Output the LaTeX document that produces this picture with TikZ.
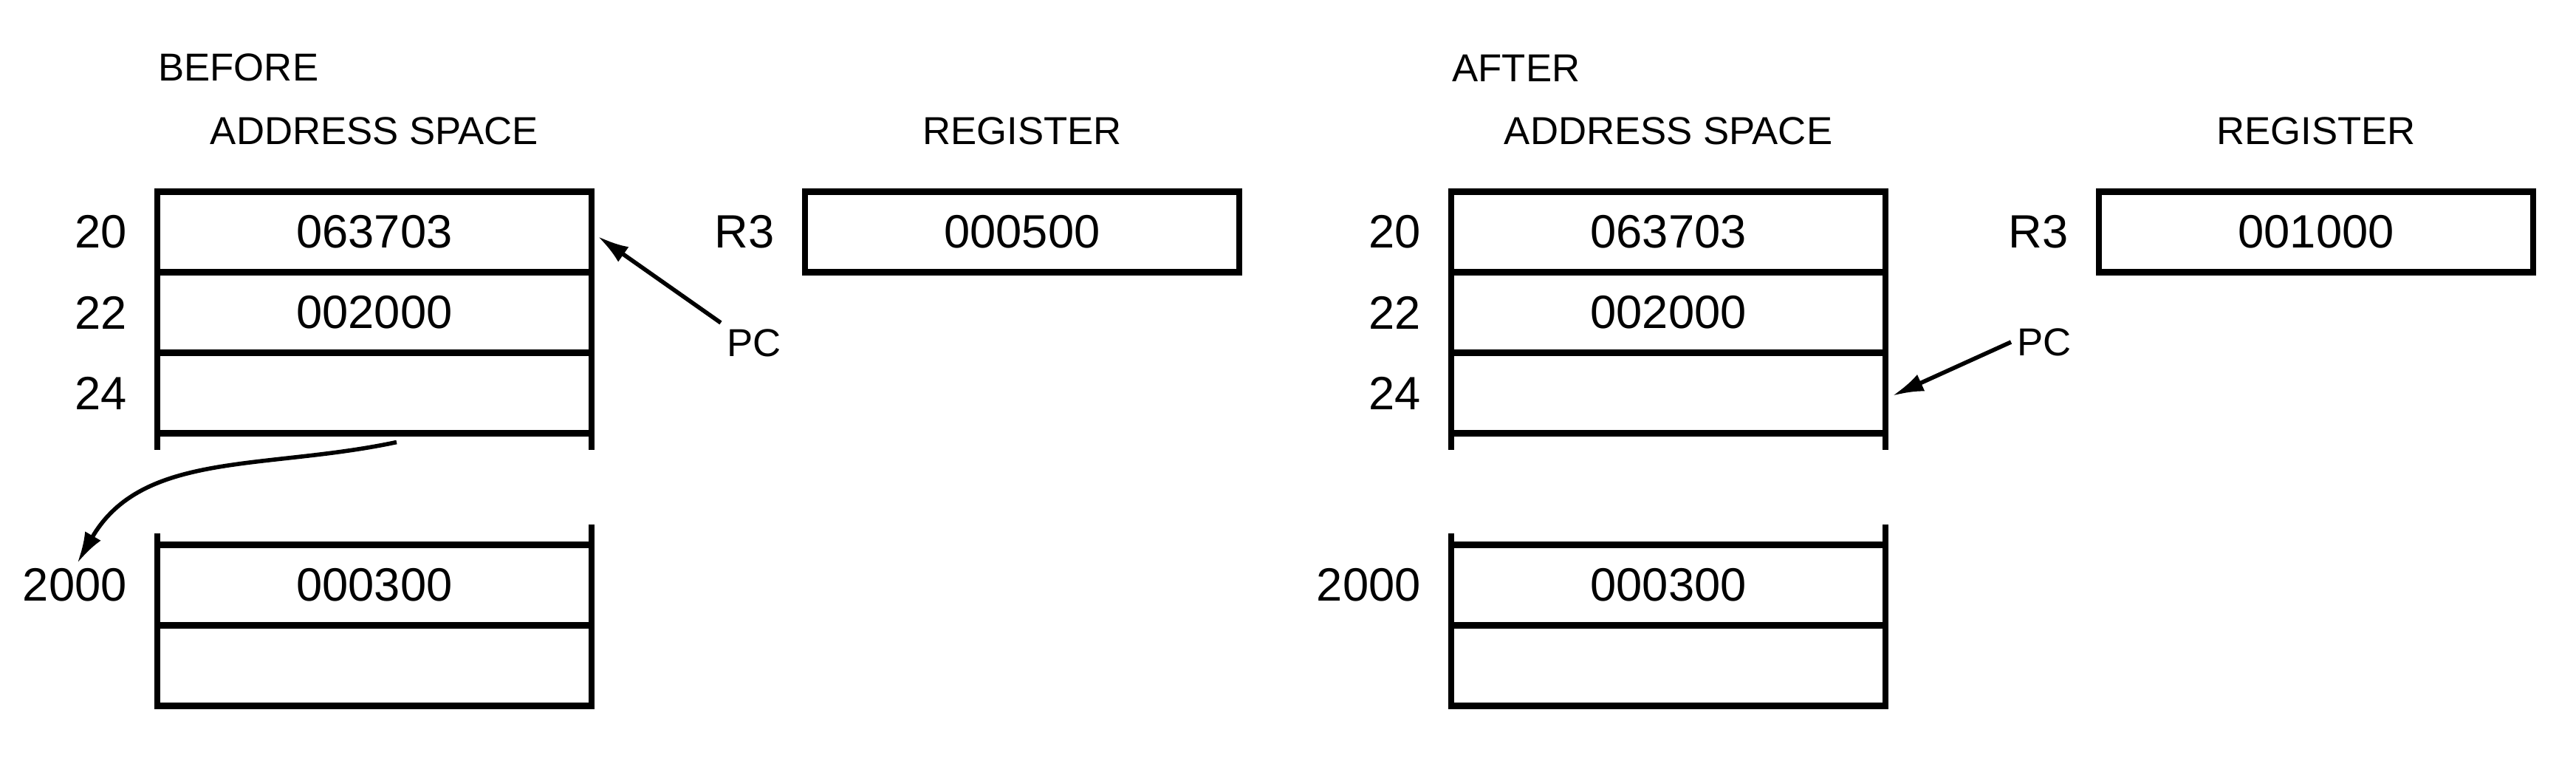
\documentclass[tikz,border=0pt]{standalone}
\usepackage{fontspec}
\setmainfont{Liberation Sans}
\usetikzlibrary{positioning, arrows.meta}

\tikzset{
  cell/.style={draw, line width=1.2pt, outer sep=0pt, inner sep=0pt,
    minimum width=2.94cm, minimum height=0.545cm, font=\fontsize{9}{11}\selectfont},
  addr/.style={inner sep=0pt, font=\fontsize{9}{11}\selectfont},
  heading/.style={inner sep=0pt, font=\fontsize{7.5}{9}\selectfont},
  side/.style={line width=1.2pt},
  ptr/.style={line width=0.8pt, -{Latex[length=6pt, width=3.5pt]}},
}

\begin{document}
\begin{tikzpicture}
  \useasboundingbox (0,0) rectangle (17.44,-5.22);

  % before
  \node[cell] (b20) at (2.535,-1.57) {063703};
  \node[cell, below=0pt of b20] (b22) {002000};
  \node[cell, below=0pt of b22] (b24) {};
  \node[cell, below=0.755cm of b24] (b2000) {000300};
  \node[cell, below=0pt of b2000] (bnext) {};
  \node[addr, left=0.2cm of b20] (bl20) {20};
  \node[addr, left=0.2cm of b22] (bl22) {22};
  \node[addr, left=0.2cm of b24] (bl24) {24};
  \node[addr, left=0.2cm of b2000] (bl2000) {2000};
  \draw[side] (b24.south west) -- ++(0,-0.11);
  \draw[side] (b24.south east) -- ++(0,-0.11);
  \draw[side] (b2000.north west) -- ++(0,0.08);
  \draw[side] (b2000.north east) -- ++(0,0.14);

  \node[cell, right=1.445cm of b20] (breg) {000500};
  \node[addr, left=0.2cm of breg] (br3) {R3};

  \node[heading, above=0.31cm of b20] (bspace) {ADDRESS SPACE};
  \node[heading, above=0.31cm of breg] (bregister) {REGISTER};
  \node[heading, above right=0.74cm and 0cm of b20.north west] (before) {BEFORE};

  \node[heading, inner sep=1pt] (bpc) at (5.105,-2.32) {PC};
  \draw[ptr, shorten >=1.5pt] (bpc.north west) -- (b20.east);
  \draw[ptr, shorten >=1pt] ([xshift=0.15cm, yshift=-0.06cm]b24.south)
    to[out=192, in=60] (bl2000.north);

  % after
  \node[cell] (a20) at (11.295,-1.57) {063703};
  \node[cell, below=0pt of a20] (a22) {002000};
  \node[cell, below=0pt of a22] (a24) {};
  \node[cell, below=0.755cm of a24] (a2000) {000300};
  \node[cell, below=0pt of a2000] (anext) {};
  \node[addr, left=0.2cm of a20] (al20) {20};
  \node[addr, left=0.2cm of a22] (al22) {22};
  \node[addr, left=0.2cm of a24] (al24) {24};
  \node[addr, left=0.2cm of a2000] (al2000) {2000};
  \draw[side] (a24.south west) -- ++(0,-0.11);
  \draw[side] (a24.south east) -- ++(0,-0.11);
  \draw[side] (a2000.north west) -- ++(0,0.08);
  \draw[side] (a2000.north east) -- ++(0,0.14);

  \node[cell, right=1.445cm of a20] (areg) {001000};
  \node[addr, left=0.2cm of areg] (ar3) {R3};

  \node[heading, above=0.31cm of a20] (aspace) {ADDRESS SPACE};
  \node[heading, above=0.31cm of areg] (aregister) {REGISTER};
  \node[heading, above right=0.74cm and 0cm of a20.north west] (after) {AFTER};

  \node[heading, inner sep=1pt] (apc) at (13.84,-2.315) {PC};
  \draw[ptr, shorten >=1.5pt] (apc.west) -- ([yshift=-0.04cm]a24.east);
\end{tikzpicture}
\end{document}
